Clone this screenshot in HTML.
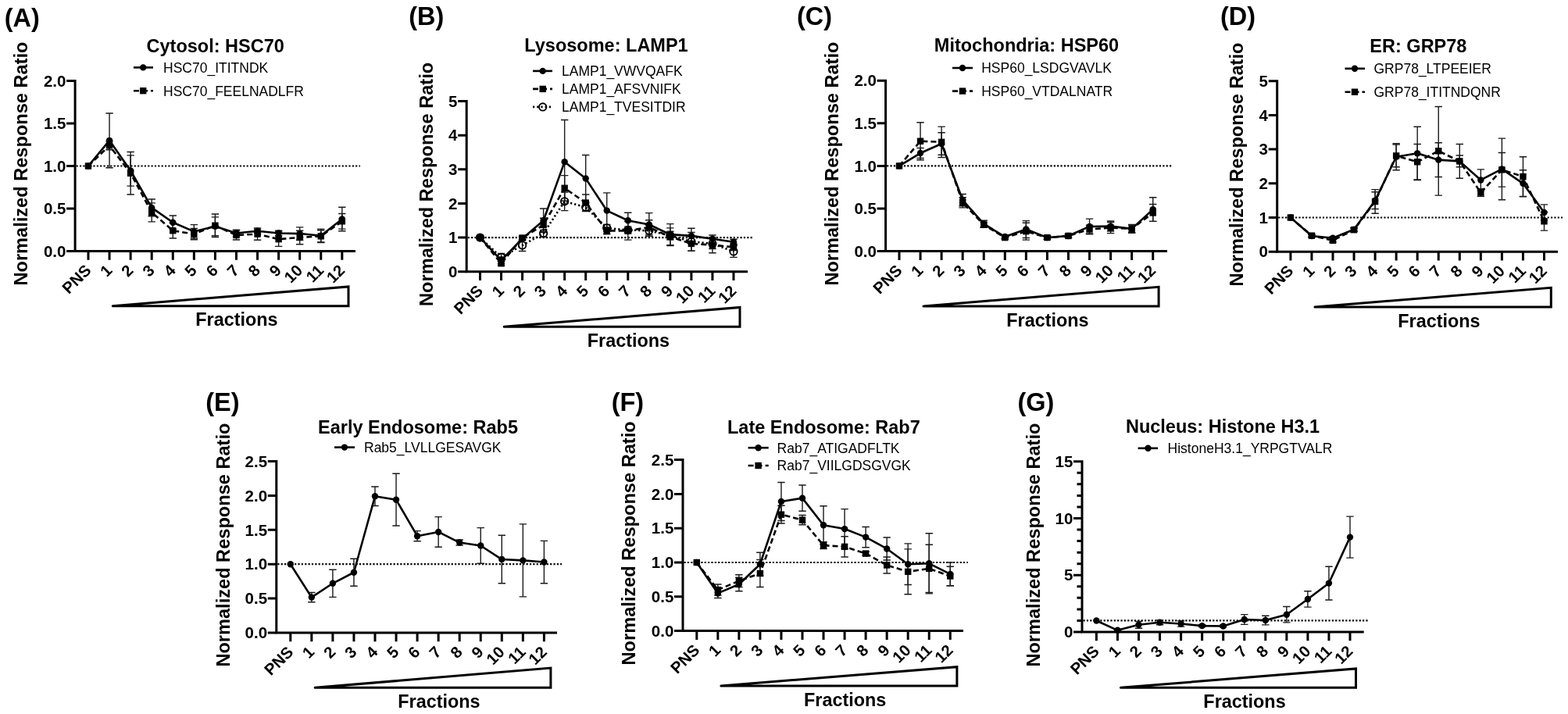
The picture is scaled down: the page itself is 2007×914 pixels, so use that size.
<!DOCTYPE html>
<html><head><meta charset="utf-8"><title>Figure</title>
<style>html,body{margin:0;padding:0;background:#fff;width:2007px;height:914px;overflow:hidden}
svg{display:block} text{font-family:"Liberation Sans", Arial, sans-serif;fill:#000}</style></head>
<body><svg width="2007" height="914" viewBox="0 0 2007 914">
<rect width="2007" height="914" fill="#fff"/>
<g><text transform="translate(5.8 34.2) scale(0.955 1)" font-size="34" font-weight="bold">(A)</text>
<text x="275.7" y="67" font-size="23.5" font-weight="bold" text-anchor="middle">Cytosol: HSC70</text>
<text transform="translate(34.8 209.5) rotate(-90)" font-size="23.6" font-weight="bold" text-anchor="middle">Normalized Response Ratio</text>
<line x1="97.6" y1="212.5" x2="461" y2="212.5" stroke="#000" stroke-width="2.2" stroke-dasharray="2.2 2.16"/>
<path d="M85.1 103.6H96.1V321.4H455" fill="none" stroke="#000" stroke-width="3.0"/>
<text x="84.4" y="328.6" font-size="20.5" font-weight="bold" text-anchor="end">0.0</text>
<text x="84.4" y="274.15" font-size="20.5" font-weight="bold" text-anchor="end">0.5</text>
<text x="84.4" y="219.7" font-size="20.5" font-weight="bold" text-anchor="end">1.0</text>
<text x="84.4" y="165.25" font-size="20.5" font-weight="bold" text-anchor="end">1.5</text>
<text x="84.4" y="110.8" font-size="20.5" font-weight="bold" text-anchor="end">2.0</text>
<path d="M85.1 321.4H96.1M85.1 266.95H96.1M85.1 212.5H96.1M85.1 158.05H96.1M113 321.4V332.7M140.07 321.4V332.7M167.14 321.4V332.7M194.21 321.4V332.7M221.28 321.4V332.7M248.35 321.4V332.7M275.42 321.4V332.7M302.49 321.4V332.7M329.56 321.4V332.7M356.63 321.4V332.7M383.7 321.4V332.7M410.77 321.4V332.7M437.84 321.4V332.7" fill="none" stroke="#000" stroke-width="3.0"/>
<text transform="translate(117.8 347.4) rotate(-45)" font-size="20.5" font-weight="bold" text-anchor="end">PNS</text>
<text transform="translate(144.87 347.4) rotate(-45)" font-size="20.5" font-weight="bold" text-anchor="end">1</text>
<text transform="translate(171.94 347.4) rotate(-45)" font-size="20.5" font-weight="bold" text-anchor="end">2</text>
<text transform="translate(199.01 347.4) rotate(-45)" font-size="20.5" font-weight="bold" text-anchor="end">3</text>
<text transform="translate(226.08 347.4) rotate(-45)" font-size="20.5" font-weight="bold" text-anchor="end">4</text>
<text transform="translate(253.15 347.4) rotate(-45)" font-size="20.5" font-weight="bold" text-anchor="end">5</text>
<text transform="translate(280.22 347.4) rotate(-45)" font-size="20.5" font-weight="bold" text-anchor="end">6</text>
<text transform="translate(307.29 347.4) rotate(-45)" font-size="20.5" font-weight="bold" text-anchor="end">7</text>
<text transform="translate(334.36 347.4) rotate(-45)" font-size="20.5" font-weight="bold" text-anchor="end">8</text>
<text transform="translate(361.43 347.4) rotate(-45)" font-size="20.5" font-weight="bold" text-anchor="end">9</text>
<text transform="translate(388.5 347.4) rotate(-45)" font-size="20.5" font-weight="bold" text-anchor="end">10</text>
<text transform="translate(415.57 347.4) rotate(-45)" font-size="20.5" font-weight="bold" text-anchor="end">11</text>
<text transform="translate(442.64 347.4) rotate(-45)" font-size="20.5" font-weight="bold" text-anchor="end">12</text>
<path d="M144.3 391.8H446V367L144.3 391.8" fill="#fff" stroke="#000" stroke-width="3" stroke-linecap="round" stroke-linejoin="miter"/>
<text x="302.9" y="417.4" font-size="23.4" font-weight="bold" text-anchor="middle">Fractions</text>
<line x1="171" y1="86.4" x2="196" y2="86.4" stroke="#000" stroke-width="2.6"/>
<circle cx="183.2" cy="86.4" r="4.2"/>
<text x="209" y="92.7" font-size="17.5">HSC70_ITITNDK</text>
<line x1="171" y1="116.2" x2="196" y2="116.2" stroke="#000" stroke-width="2.6" stroke-dasharray="7 4"/>
<rect x="179" y="112" width="8.4" height="8.4"/>
<text x="209" y="122.5" font-size="17.5">HSC70_FEELNADLFR</text>
<path d="M140.07 144.98V214.68M135.37 144.98h9.4M135.37 214.68h9.4M167.14 198.89V238.09M162.44 198.89h9.4M162.44 238.09h9.4M194.21 254.97V276.75M189.51 254.97h9.4M189.51 276.75h9.4M221.28 275.99V293.41M216.58 275.99h9.4M216.58 293.41h9.4M248.35 287.64V305.06M243.65 287.64h9.4M243.65 305.06h9.4M275.42 277.84V301.8M270.72 277.84h9.4M270.72 301.8h9.4M302.49 294.17V302.89M297.79 294.17h9.4M297.79 302.89h9.4M329.56 293.63V297.99M324.86 293.63h9.4M324.86 297.99h9.4M356.63 295.26V301.8M351.93 295.26h9.4M351.93 301.8h9.4M383.7 290.91V307.24M379 290.91h9.4M379 307.24h9.4M410.77 293.09V310.51M406.07 293.09h9.4M406.07 310.51h9.4M437.84 265.32V295.81M433.14 265.32h9.4M433.14 295.81h9.4" fill="none" stroke="#1a1a1a" stroke-width="1.4"/>
<path d="M140.07 180.92V191.81M135.37 180.92h9.4M135.37 191.81h9.4M167.14 194.53V248.98M162.44 194.53h9.4M162.44 248.98h9.4M194.21 259.87V283.83M189.51 259.87h9.4M189.51 283.83h9.4M221.28 285.46V305.06M216.58 285.46h9.4M216.58 305.06h9.4M248.35 292.54V306.7M243.65 292.54h9.4M243.65 306.7h9.4M275.42 274.03V303.43M270.72 274.03h9.4M270.72 303.43h9.4M302.49 295.05V307.03M297.79 295.05h9.4M297.79 307.03h9.4M329.56 292V307.24M324.86 292h9.4M324.86 307.24h9.4M356.63 296.9V315.41M351.93 296.9h9.4M351.93 315.41h9.4M383.7 295.26V312.69M379 295.26h9.4M379 312.69h9.4M410.77 294.72V309.97M406.07 294.72h9.4M406.07 309.97h9.4M437.84 273.48V293.09M433.14 273.48h9.4M433.14 293.09h9.4" fill="none" stroke="#1a1a1a" stroke-width="1.4"/>
<polyline points="113,212.5 140.07,179.83 167.14,218.49 194.21,265.86 221.28,284.7 248.35,296.35 275.42,289.82 302.49,298.53 329.56,295.81 356.63,298.53 383.7,299.08 410.77,301.8 437.84,280.56" fill="none" stroke="#000" stroke-width="2.6" stroke-linejoin="round"/>
<circle cx="113" cy="212.5" r="4.2"/>
<circle cx="140.07" cy="179.83" r="4.2"/>
<circle cx="167.14" cy="218.49" r="4.2"/>
<circle cx="194.21" cy="265.86" r="4.2"/>
<circle cx="221.28" cy="284.7" r="4.2"/>
<circle cx="248.35" cy="296.35" r="4.2"/>
<circle cx="275.42" cy="289.82" r="4.2"/>
<circle cx="302.49" cy="298.53" r="4.2"/>
<circle cx="329.56" cy="295.81" r="4.2"/>
<circle cx="356.63" cy="298.53" r="4.2"/>
<circle cx="383.7" cy="299.08" r="4.2"/>
<circle cx="410.77" cy="301.8" r="4.2"/>
<circle cx="437.84" cy="280.56" r="4.2"/>
<polyline points="113,212.5 140.07,186.36 167.14,221.76 194.21,271.85 221.28,295.26 248.35,299.62 275.42,288.73 302.49,301.04 329.56,299.62 356.63,306.15 383.7,303.98 410.77,302.34 437.84,283.28" fill="none" stroke="#000" stroke-width="2.6" stroke-linejoin="round" stroke-dasharray="7 4"/>
<rect x="108.8" y="208.3" width="8.4" height="8.4"/>
<rect x="135.87" y="182.16" width="8.4" height="8.4"/>
<rect x="162.94" y="217.56" width="8.4" height="8.4"/>
<rect x="190.01" y="267.65" width="8.4" height="8.4"/>
<rect x="217.08" y="291.06" width="8.4" height="8.4"/>
<rect x="244.15" y="295.42" width="8.4" height="8.4"/>
<rect x="271.22" y="284.53" width="8.4" height="8.4"/>
<rect x="298.29" y="296.84" width="8.4" height="8.4"/>
<rect x="325.36" y="295.42" width="8.4" height="8.4"/>
<rect x="352.43" y="301.95" width="8.4" height="8.4"/>
<rect x="379.5" y="299.78" width="8.4" height="8.4"/>
<rect x="406.57" y="298.14" width="8.4" height="8.4"/>
<rect x="433.64" y="279.08" width="8.4" height="8.4"/></g>
<g><text transform="translate(523.2 31.7) scale(0.955 1)" font-size="34" font-weight="bold">(B)</text>
<text x="776" y="66.3" font-size="23.5" font-weight="bold" text-anchor="middle">Lysosome: LAMP1</text>
<text transform="translate(553.6 235.9) rotate(-90)" font-size="23.6" font-weight="bold" text-anchor="middle">Normalized Response Ratio</text>
<line x1="598.7" y1="304.06" x2="965" y2="304.06" stroke="#000" stroke-width="2.2" stroke-dasharray="2.2 2.16"/>
<path d="M586.2 129.5H597.2V347.7H957" fill="none" stroke="#000" stroke-width="3.0"/>
<text x="585.5" y="354.9" font-size="20.5" font-weight="bold" text-anchor="end">0</text>
<text x="585.5" y="311.26" font-size="20.5" font-weight="bold" text-anchor="end">1</text>
<text x="585.5" y="267.62" font-size="20.5" font-weight="bold" text-anchor="end">2</text>
<text x="585.5" y="223.98" font-size="20.5" font-weight="bold" text-anchor="end">3</text>
<text x="585.5" y="180.34" font-size="20.5" font-weight="bold" text-anchor="end">4</text>
<text x="585.5" y="136.7" font-size="20.5" font-weight="bold" text-anchor="end">5</text>
<path d="M586.2 347.7H597.2M586.2 304.06H597.2M586.2 260.42H597.2M586.2 216.78H597.2M586.2 173.14H597.2M614.5 347.7V359M641.54 347.7V359M668.58 347.7V359M695.62 347.7V359M722.66 347.7V359M749.7 347.7V359M776.74 347.7V359M803.78 347.7V359M830.82 347.7V359M857.86 347.7V359M884.9 347.7V359M911.94 347.7V359M938.98 347.7V359" fill="none" stroke="#000" stroke-width="3.0"/>
<text transform="translate(619.3 373.7) rotate(-45)" font-size="20.5" font-weight="bold" text-anchor="end">PNS</text>
<text transform="translate(646.34 373.7) rotate(-45)" font-size="20.5" font-weight="bold" text-anchor="end">1</text>
<text transform="translate(673.38 373.7) rotate(-45)" font-size="20.5" font-weight="bold" text-anchor="end">2</text>
<text transform="translate(700.42 373.7) rotate(-45)" font-size="20.5" font-weight="bold" text-anchor="end">3</text>
<text transform="translate(727.46 373.7) rotate(-45)" font-size="20.5" font-weight="bold" text-anchor="end">4</text>
<text transform="translate(754.5 373.7) rotate(-45)" font-size="20.5" font-weight="bold" text-anchor="end">5</text>
<text transform="translate(781.54 373.7) rotate(-45)" font-size="20.5" font-weight="bold" text-anchor="end">6</text>
<text transform="translate(808.58 373.7) rotate(-45)" font-size="20.5" font-weight="bold" text-anchor="end">7</text>
<text transform="translate(835.62 373.7) rotate(-45)" font-size="20.5" font-weight="bold" text-anchor="end">8</text>
<text transform="translate(862.66 373.7) rotate(-45)" font-size="20.5" font-weight="bold" text-anchor="end">9</text>
<text transform="translate(889.7 373.7) rotate(-45)" font-size="20.5" font-weight="bold" text-anchor="end">10</text>
<text transform="translate(916.74 373.7) rotate(-45)" font-size="20.5" font-weight="bold" text-anchor="end">11</text>
<text transform="translate(943.78 373.7) rotate(-45)" font-size="20.5" font-weight="bold" text-anchor="end">12</text>
<path d="M645.2 418.2H947V393.5L645.2 418.2" fill="#fff" stroke="#000" stroke-width="3" stroke-linecap="round" stroke-linejoin="miter"/>
<text x="804.4" y="443.8" font-size="23.4" font-weight="bold" text-anchor="middle">Fractions</text>
<line x1="682" y1="90.9" x2="707" y2="90.9" stroke="#000" stroke-width="2.6"/>
<circle cx="694.7" cy="90.9" r="4.2"/>
<text x="719" y="97.2" font-size="17.5">LAMP1_VWVQAFK</text>
<line x1="682" y1="113.9" x2="707" y2="113.9" stroke="#000" stroke-width="2.6" stroke-dasharray="7 4"/>
<rect x="690.5" y="109.7" width="8.4" height="8.4"/>
<text x="719" y="120.2" font-size="17.5">LAMP1_AFSVNIFK</text>
<line x1="682" y1="136.9" x2="707" y2="136.9" stroke="#000" stroke-width="2.6" stroke-dasharray="2.2 3" />
<circle cx="694.7" cy="136.9" r="4.7" fill="none" stroke="#000" stroke-width="1.9"/>
<text x="719" y="143.2" font-size="17.5">LAMP1_TVESITDIR</text>
<path d="M641.54 328.93V337.66M636.84 328.93h9.4M636.84 337.66h9.4M668.58 303.19V307.55M663.88 303.19h9.4M663.88 307.55h9.4M695.62 266.97V297.51M690.92 266.97h9.4M690.92 297.51h9.4M722.66 153.5V260.86M717.96 153.5h9.4M717.96 260.86h9.4M749.7 198.45V258.67M745 198.45h9.4M745 258.67h9.4M776.74 246.89V292.28M772.04 246.89h9.4M772.04 292.28h9.4M803.78 272.2V292.28M799.08 272.2h9.4M799.08 292.28h9.4M830.82 272.64V302.31M826.12 272.64h9.4M826.12 302.31h9.4M857.86 286.6V313.66M853.16 286.6h9.4M853.16 313.66h9.4M884.9 292.28V311.48M880.2 292.28h9.4M880.2 311.48h9.4M911.94 301.01V310.61M907.24 301.01h9.4M907.24 310.61h9.4M938.98 306.24V313.22M934.28 306.24h9.4M934.28 313.22h9.4" fill="none" stroke="#1a1a1a" stroke-width="1.4"/>
<path d="M641.54 334.61V339.84M636.84 334.61h9.4M636.84 339.84h9.4M668.58 302.31V306.68M663.88 302.31h9.4M663.88 306.68h9.4M695.62 279.19V296.64M690.92 279.19h9.4M690.92 296.64h9.4M722.66 224.64V256.93M717.96 224.64h9.4M717.96 256.93h9.4M749.7 249.07V270.02M745 249.07h9.4M745 270.02h9.4M776.74 290.97V299.7M772.04 290.97h9.4M772.04 299.7h9.4M803.78 283.55V307.11M799.08 283.55h9.4M799.08 307.11h9.4M830.82 281.8V300.13M826.12 281.8h9.4M826.12 300.13h9.4M857.86 291.84V314.53M853.16 291.84h9.4M853.16 314.53h9.4M884.9 302.75V321.08M880.2 302.75h9.4M880.2 321.08h9.4M911.94 303.62V323.7M907.24 303.62h9.4M907.24 323.7h9.4M938.98 311.92V320.64M934.28 311.92h9.4M934.28 320.64h9.4" fill="none" stroke="#1a1a1a" stroke-width="1.4"/>
<path d="M641.54 324.57V334.17M636.84 324.57h9.4M636.84 334.17h9.4M668.58 306.68V321.52M663.88 306.68h9.4M663.88 321.52h9.4M695.62 294.46V303.19M690.92 294.46h9.4M690.92 303.19h9.4M722.66 246.02V269.58M717.96 246.02h9.4M717.96 269.58h9.4M749.7 259.98V270.46M745 259.98h9.4M745 270.46h9.4M776.74 287.48V296.2M772.04 287.48h9.4M772.04 296.2h9.4M803.78 290.1V298.82M799.08 290.1h9.4M799.08 298.82h9.4M830.82 288.35V302.31M826.12 288.35h9.4M826.12 302.31h9.4M857.86 296.2V306.68M853.16 296.2h9.4M853.16 306.68h9.4M884.9 297.51V321.08M880.2 297.51h9.4M880.2 321.08h9.4M911.94 305.37V318.46M907.24 305.37h9.4M907.24 318.46h9.4M938.98 314.53V329.37M934.28 314.53h9.4M934.28 329.37h9.4" fill="none" stroke="#1a1a1a" stroke-width="1.4"/>
<polyline points="614.5,304.06 641.54,333.3 668.58,305.37 695.62,282.24 722.66,207.18 749.7,228.56 776.74,269.58 803.78,282.24 830.82,287.48 857.86,300.13 884.9,301.88 911.94,305.81 938.98,309.73" fill="none" stroke="#000" stroke-width="2.6" stroke-linejoin="round"/>
<circle cx="614.5" cy="304.06" r="4.2"/>
<circle cx="641.54" cy="333.3" r="4.2"/>
<circle cx="668.58" cy="305.37" r="4.2"/>
<circle cx="695.62" cy="282.24" r="4.2"/>
<circle cx="722.66" cy="207.18" r="4.2"/>
<circle cx="749.7" cy="228.56" r="4.2"/>
<circle cx="776.74" cy="269.58" r="4.2"/>
<circle cx="803.78" cy="282.24" r="4.2"/>
<circle cx="830.82" cy="287.48" r="4.2"/>
<circle cx="857.86" cy="300.13" r="4.2"/>
<circle cx="884.9" cy="301.88" r="4.2"/>
<circle cx="911.94" cy="305.81" r="4.2"/>
<circle cx="938.98" cy="309.73" r="4.2"/>
<polyline points="614.5,304.06 641.54,337.23 668.58,304.5 695.62,287.91 722.66,240.78 749.7,259.55 776.74,295.33 803.78,295.33 830.82,290.97 857.86,303.19 884.9,311.92 911.94,313.66 938.98,316.28" fill="none" stroke="#000" stroke-width="2.6" stroke-linejoin="round" stroke-dasharray="7 4"/>
<rect x="610.3" y="299.86" width="8.4" height="8.4"/>
<rect x="637.34" y="333.03" width="8.4" height="8.4"/>
<rect x="664.38" y="300.3" width="8.4" height="8.4"/>
<rect x="691.42" y="283.71" width="8.4" height="8.4"/>
<rect x="718.46" y="236.58" width="8.4" height="8.4"/>
<rect x="745.5" y="255.35" width="8.4" height="8.4"/>
<rect x="772.54" y="291.13" width="8.4" height="8.4"/>
<rect x="799.58" y="291.13" width="8.4" height="8.4"/>
<rect x="826.62" y="286.77" width="8.4" height="8.4"/>
<rect x="853.66" y="298.99" width="8.4" height="8.4"/>
<rect x="880.7" y="307.72" width="8.4" height="8.4"/>
<rect x="907.74" y="309.46" width="8.4" height="8.4"/>
<rect x="934.78" y="312.08" width="8.4" height="8.4"/>
<polyline points="614.5,304.06 641.54,329.37 668.58,314.1 695.62,298.82 722.66,257.8 749.7,265.22 776.74,291.84 803.78,294.46 830.82,295.33 857.86,301.44 884.9,309.3 911.94,311.92 938.98,321.95" fill="none" stroke="#000" stroke-width="2.6" stroke-linejoin="round" stroke-dasharray="2.2 3" />
<circle cx="614.5" cy="304.06" r="4.7" fill="none" stroke="#000" stroke-width="1.9"/>
<circle cx="641.54" cy="329.37" r="4.7" fill="none" stroke="#000" stroke-width="1.9"/>
<circle cx="668.58" cy="314.1" r="4.7" fill="none" stroke="#000" stroke-width="1.9"/>
<circle cx="695.62" cy="298.82" r="4.7" fill="none" stroke="#000" stroke-width="1.9"/>
<circle cx="722.66" cy="257.8" r="4.7" fill="none" stroke="#000" stroke-width="1.9"/>
<circle cx="749.7" cy="265.22" r="4.7" fill="none" stroke="#000" stroke-width="1.9"/>
<circle cx="776.74" cy="291.84" r="4.7" fill="none" stroke="#000" stroke-width="1.9"/>
<circle cx="803.78" cy="294.46" r="4.7" fill="none" stroke="#000" stroke-width="1.9"/>
<circle cx="830.82" cy="295.33" r="4.7" fill="none" stroke="#000" stroke-width="1.9"/>
<circle cx="857.86" cy="301.44" r="4.7" fill="none" stroke="#000" stroke-width="1.9"/>
<circle cx="884.9" cy="309.3" r="4.7" fill="none" stroke="#000" stroke-width="1.9"/>
<circle cx="911.94" cy="311.92" r="4.7" fill="none" stroke="#000" stroke-width="1.9"/>
<circle cx="938.98" cy="321.95" r="4.7" fill="none" stroke="#000" stroke-width="1.9"/></g>
<g><text transform="translate(1019.9 31.7) scale(0.955 1)" font-size="34" font-weight="bold">(C)</text>
<text x="1314" y="66.2" font-size="23.5" font-weight="bold" text-anchor="middle">Mitochondria: HSP60</text>
<text transform="translate(1072.8 209.6) rotate(-90)" font-size="23.6" font-weight="bold" text-anchor="middle">Normalized Response Ratio</text>
<line x1="1135.1" y1="212.4" x2="1500" y2="212.4" stroke="#000" stroke-width="2.2" stroke-dasharray="2.2 2.16"/>
<path d="M1122.6 103.2H1133.6V321.6H1494" fill="none" stroke="#000" stroke-width="3.0"/>
<text x="1121.9" y="328.8" font-size="20.5" font-weight="bold" text-anchor="end">0.0</text>
<text x="1121.9" y="274.2" font-size="20.5" font-weight="bold" text-anchor="end">0.5</text>
<text x="1121.9" y="219.6" font-size="20.5" font-weight="bold" text-anchor="end">1.0</text>
<text x="1121.9" y="165" font-size="20.5" font-weight="bold" text-anchor="end">1.5</text>
<text x="1121.9" y="110.4" font-size="20.5" font-weight="bold" text-anchor="end">2.0</text>
<path d="M1122.6 321.6H1133.6M1122.6 267H1133.6M1122.6 212.4H1133.6M1122.6 157.8H1133.6M1151 321.6V332.9M1178.06 321.6V332.9M1205.12 321.6V332.9M1232.18 321.6V332.9M1259.24 321.6V332.9M1286.3 321.6V332.9M1313.36 321.6V332.9M1340.42 321.6V332.9M1367.48 321.6V332.9M1394.54 321.6V332.9M1421.6 321.6V332.9M1448.66 321.6V332.9M1475.72 321.6V332.9" fill="none" stroke="#000" stroke-width="3.0"/>
<text transform="translate(1155.8 347.6) rotate(-45)" font-size="20.5" font-weight="bold" text-anchor="end">PNS</text>
<text transform="translate(1182.86 347.6) rotate(-45)" font-size="20.5" font-weight="bold" text-anchor="end">1</text>
<text transform="translate(1209.92 347.6) rotate(-45)" font-size="20.5" font-weight="bold" text-anchor="end">2</text>
<text transform="translate(1236.98 347.6) rotate(-45)" font-size="20.5" font-weight="bold" text-anchor="end">3</text>
<text transform="translate(1264.04 347.6) rotate(-45)" font-size="20.5" font-weight="bold" text-anchor="end">4</text>
<text transform="translate(1291.1 347.6) rotate(-45)" font-size="20.5" font-weight="bold" text-anchor="end">5</text>
<text transform="translate(1318.16 347.6) rotate(-45)" font-size="20.5" font-weight="bold" text-anchor="end">6</text>
<text transform="translate(1345.22 347.6) rotate(-45)" font-size="20.5" font-weight="bold" text-anchor="end">7</text>
<text transform="translate(1372.28 347.6) rotate(-45)" font-size="20.5" font-weight="bold" text-anchor="end">8</text>
<text transform="translate(1399.34 347.6) rotate(-45)" font-size="20.5" font-weight="bold" text-anchor="end">9</text>
<text transform="translate(1426.4 347.6) rotate(-45)" font-size="20.5" font-weight="bold" text-anchor="end">10</text>
<text transform="translate(1453.46 347.6) rotate(-45)" font-size="20.5" font-weight="bold" text-anchor="end">11</text>
<text transform="translate(1480.52 347.6) rotate(-45)" font-size="20.5" font-weight="bold" text-anchor="end">12</text>
<path d="M1182 391.9H1483.1V367.3L1182 391.9" fill="#fff" stroke="#000" stroke-width="3" stroke-linecap="round" stroke-linejoin="miter"/>
<text x="1340.9" y="417.7" font-size="23.4" font-weight="bold" text-anchor="middle">Fractions</text>
<line x1="1219" y1="87" x2="1245" y2="87" stroke="#000" stroke-width="2.6"/>
<circle cx="1232" cy="87" r="4.2"/>
<text x="1256.2" y="93.3" font-size="17.5">HSP60_LSDGVAVLK</text>
<line x1="1219" y1="116.6" x2="1245" y2="116.6" stroke="#000" stroke-width="2.6" stroke-dasharray="7 4"/>
<rect x="1227.8" y="112.4" width="8.4" height="8.4"/>
<text x="1256.2" y="122.9" font-size="17.5">HSP60_VTDALNATR</text>
<path d="M1178.06 189.47V202.57M1173.36 189.47h9.4M1173.36 202.57h9.4M1205.12 169.81V198.2M1200.42 169.81h9.4M1200.42 198.2h9.4M1232.18 248.44V263.72M1227.48 248.44h9.4M1227.48 263.72h9.4M1259.24 282.29V291.02M1254.54 282.29h9.4M1254.54 291.02h9.4M1286.3 300.85V305.22M1281.6 300.85h9.4M1281.6 305.22h9.4M1313.36 282.62V304.46M1308.66 282.62h9.4M1308.66 304.46h9.4M1340.42 301.94V306.31M1335.72 301.94h9.4M1335.72 306.31h9.4M1367.48 299.76V304.13M1362.78 299.76h9.4M1362.78 304.13h9.4M1394.54 280.1V299.76M1389.84 280.1h9.4M1389.84 299.76h9.4M1421.6 283.05V296.16M1416.9 283.05h9.4M1416.9 296.16h9.4M1448.66 287.42V298.34M1443.96 287.42h9.4M1443.96 298.34h9.4M1475.72 252.8V283.38M1471.02 252.8h9.4M1471.02 283.38h9.4" fill="none" stroke="#1a1a1a" stroke-width="1.4"/>
<path d="M1178.06 156.71V204.76M1173.36 156.71h9.4M1173.36 204.76h9.4M1205.12 162.17V201.48M1200.42 162.17h9.4M1200.42 201.48h9.4M1232.18 252.8V265.91M1227.48 252.8h9.4M1227.48 265.91h9.4M1259.24 284.47V291.02M1254.54 284.47h9.4M1254.54 291.02h9.4M1286.3 301.94V306.31M1281.6 301.94h9.4M1281.6 306.31h9.4M1313.36 285.24V307.08M1308.66 285.24h9.4M1308.66 307.08h9.4M1340.42 301.94V306.31M1335.72 301.94h9.4M1335.72 306.31h9.4M1367.48 299.76V304.13M1362.78 299.76h9.4M1362.78 304.13h9.4M1394.54 288.08V299M1389.84 288.08h9.4M1389.84 299h9.4M1421.6 284.47V298.67M1416.9 284.47h9.4M1416.9 298.67h9.4M1448.66 287.97V297.79M1443.96 287.97h9.4M1443.96 297.79h9.4M1475.72 261.54V283.38M1471.02 261.54h9.4M1471.02 283.38h9.4" fill="none" stroke="#1a1a1a" stroke-width="1.4"/>
<polyline points="1151,212.4 1178.06,196.02 1205.12,184.01 1232.18,256.08 1259.24,286.66 1286.3,303.04 1313.36,293.54 1340.42,304.13 1367.48,301.94 1394.54,289.93 1421.6,289.6 1448.66,292.88 1475.72,268.09" fill="none" stroke="#000" stroke-width="2.6" stroke-linejoin="round"/>
<circle cx="1151" cy="212.4" r="4.2"/>
<circle cx="1178.06" cy="196.02" r="4.2"/>
<circle cx="1205.12" cy="184.01" r="4.2"/>
<circle cx="1232.18" cy="256.08" r="4.2"/>
<circle cx="1259.24" cy="286.66" r="4.2"/>
<circle cx="1286.3" cy="303.04" r="4.2"/>
<circle cx="1313.36" cy="293.54" r="4.2"/>
<circle cx="1340.42" cy="304.13" r="4.2"/>
<circle cx="1367.48" cy="301.94" r="4.2"/>
<circle cx="1394.54" cy="289.93" r="4.2"/>
<circle cx="1421.6" cy="289.6" r="4.2"/>
<circle cx="1448.66" cy="292.88" r="4.2"/>
<circle cx="1475.72" cy="268.09" r="4.2"/>
<polyline points="1151,212.4 1178.06,180.73 1205.12,181.82 1232.18,259.36 1259.24,287.75 1286.3,304.13 1313.36,296.16 1340.42,304.13 1367.48,301.94 1394.54,293.54 1421.6,291.57 1448.66,292.88 1475.72,272.46" fill="none" stroke="#000" stroke-width="2.6" stroke-linejoin="round" stroke-dasharray="7 4"/>
<rect x="1146.8" y="208.2" width="8.4" height="8.4"/>
<rect x="1173.86" y="176.53" width="8.4" height="8.4"/>
<rect x="1200.92" y="177.62" width="8.4" height="8.4"/>
<rect x="1227.98" y="255.16" width="8.4" height="8.4"/>
<rect x="1255.04" y="283.55" width="8.4" height="8.4"/>
<rect x="1282.1" y="299.93" width="8.4" height="8.4"/>
<rect x="1309.16" y="291.96" width="8.4" height="8.4"/>
<rect x="1336.22" y="299.93" width="8.4" height="8.4"/>
<rect x="1363.28" y="297.74" width="8.4" height="8.4"/>
<rect x="1390.34" y="289.34" width="8.4" height="8.4"/>
<rect x="1417.4" y="287.37" width="8.4" height="8.4"/>
<rect x="1444.46" y="288.68" width="8.4" height="8.4"/>
<rect x="1471.52" y="268.26" width="8.4" height="8.4"/></g>
<g><text transform="translate(1561.9 31.7) scale(0.955 1)" font-size="34" font-weight="bold">(D)</text>
<text x="1815.4" y="66.9" font-size="23.5" font-weight="bold" text-anchor="middle">ER: GRP78</text>
<text transform="translate(1591.4 210.6) rotate(-90)" font-size="23.6" font-weight="bold" text-anchor="middle">Normalized Response Ratio</text>
<line x1="1636.2" y1="278.5" x2="2000" y2="278.5" stroke="#000" stroke-width="2.2" stroke-dasharray="2.2 2.16"/>
<path d="M1623.7 103.7H1634.7V322.2H1994" fill="none" stroke="#000" stroke-width="3.0"/>
<text x="1623" y="329.4" font-size="20.5" font-weight="bold" text-anchor="end">0</text>
<text x="1623" y="285.7" font-size="20.5" font-weight="bold" text-anchor="end">1</text>
<text x="1623" y="242" font-size="20.5" font-weight="bold" text-anchor="end">2</text>
<text x="1623" y="198.3" font-size="20.5" font-weight="bold" text-anchor="end">3</text>
<text x="1623" y="154.6" font-size="20.5" font-weight="bold" text-anchor="end">4</text>
<text x="1623" y="110.9" font-size="20.5" font-weight="bold" text-anchor="end">5</text>
<path d="M1623.7 322.2H1634.7M1623.7 278.5H1634.7M1623.7 234.8H1634.7M1623.7 191.1H1634.7M1623.7 147.4H1634.7M1651.9 322.2V333.5M1678.95 322.2V333.5M1706 322.2V333.5M1733.05 322.2V333.5M1760.1 322.2V333.5M1787.15 322.2V333.5M1814.2 322.2V333.5M1841.25 322.2V333.5M1868.3 322.2V333.5M1895.35 322.2V333.5M1922.4 322.2V333.5M1949.45 322.2V333.5M1976.5 322.2V333.5" fill="none" stroke="#000" stroke-width="3.0"/>
<text transform="translate(1656.7 348.2) rotate(-45)" font-size="20.5" font-weight="bold" text-anchor="end">PNS</text>
<text transform="translate(1683.75 348.2) rotate(-45)" font-size="20.5" font-weight="bold" text-anchor="end">1</text>
<text transform="translate(1710.8 348.2) rotate(-45)" font-size="20.5" font-weight="bold" text-anchor="end">2</text>
<text transform="translate(1737.85 348.2) rotate(-45)" font-size="20.5" font-weight="bold" text-anchor="end">3</text>
<text transform="translate(1764.9 348.2) rotate(-45)" font-size="20.5" font-weight="bold" text-anchor="end">4</text>
<text transform="translate(1791.95 348.2) rotate(-45)" font-size="20.5" font-weight="bold" text-anchor="end">5</text>
<text transform="translate(1819 348.2) rotate(-45)" font-size="20.5" font-weight="bold" text-anchor="end">6</text>
<text transform="translate(1846.05 348.2) rotate(-45)" font-size="20.5" font-weight="bold" text-anchor="end">7</text>
<text transform="translate(1873.1 348.2) rotate(-45)" font-size="20.5" font-weight="bold" text-anchor="end">8</text>
<text transform="translate(1900.15 348.2) rotate(-45)" font-size="20.5" font-weight="bold" text-anchor="end">9</text>
<text transform="translate(1927.2 348.2) rotate(-45)" font-size="20.5" font-weight="bold" text-anchor="end">10</text>
<text transform="translate(1954.25 348.2) rotate(-45)" font-size="20.5" font-weight="bold" text-anchor="end">11</text>
<text transform="translate(1981.3 348.2) rotate(-45)" font-size="20.5" font-weight="bold" text-anchor="end">12</text>
<path d="M1683 393H1985.3V368.3L1683 393" fill="#fff" stroke="#000" stroke-width="3" stroke-linecap="round" stroke-linejoin="miter"/>
<text x="1841.9" y="418.7" font-size="23.4" font-weight="bold" text-anchor="middle">Fractions</text>
<line x1="1721.5" y1="87.8" x2="1747" y2="87.8" stroke="#000" stroke-width="2.6"/>
<circle cx="1734" cy="87.8" r="4.2"/>
<text x="1758.5" y="94.1" font-size="17.5">GRP78_LTPEEIER</text>
<line x1="1721.5" y1="117.7" x2="1747" y2="117.7" stroke="#000" stroke-width="2.6" stroke-dasharray="7 4"/>
<rect x="1729.8" y="113.5" width="8.4" height="8.4"/>
<text x="1758.5" y="124" font-size="17.5">GRP78_ITITNDQNR</text>
<path d="M1678.95 300.35V303.85M1674.25 300.35h9.4M1674.25 303.85h9.4M1706 302.97V306.47M1701.3 302.97h9.4M1701.3 306.47h9.4M1733.05 291.61V295.98M1728.35 291.61h9.4M1728.35 295.98h9.4M1760.1 245.72V267.57M1755.4 245.72h9.4M1755.4 267.57h9.4M1787.15 183.67V217.76M1782.45 183.67h9.4M1782.45 217.76h9.4M1814.2 162.26V230.43M1809.5 162.26h9.4M1809.5 230.43h9.4M1841.25 182.8V226.5M1836.55 182.8h9.4M1836.55 226.5h9.4M1868.3 184.54V228.25M1863.6 184.54h9.4M1863.6 228.25h9.4M1895.35 216.88V243.98M1890.65 216.88h9.4M1890.65 243.98h9.4M1922.4 177.12V255.78M1917.7 177.12h9.4M1917.7 255.78h9.4M1949.45 217.76V251.84M1944.75 217.76h9.4M1944.75 251.84h9.4M1976.5 261.89V282M1971.8 261.89h9.4M1971.8 282h9.4" fill="none" stroke="#1a1a1a" stroke-width="1.4"/>
<path d="M1678.95 299.91V303.41M1674.25 299.91h9.4M1674.25 303.41h9.4M1706 305.59V309.96M1701.3 305.59h9.4M1701.3 309.96h9.4M1733.05 292.05V296.42M1728.35 292.05h9.4M1728.35 296.42h9.4M1760.1 242.67V273.26M1755.4 242.67h9.4M1755.4 273.26h9.4M1787.15 184.98V213.82M1782.45 184.98h9.4M1782.45 213.82h9.4M1814.2 184.54V229.99M1809.5 184.54h9.4M1809.5 229.99h9.4M1841.25 136.47V250.09M1836.55 136.47h9.4M1836.55 250.09h9.4M1868.3 198.97V213.82M1863.6 198.97h9.4M1863.6 213.82h9.4M1895.35 241.79V251.41M1890.65 241.79h9.4M1890.65 251.41h9.4M1922.4 195.47V239.17M1917.7 195.47h9.4M1917.7 239.17h9.4M1949.45 200.71V251.41M1944.75 200.71h9.4M1944.75 251.41h9.4M1976.5 271.51V295.11M1971.8 271.51h9.4M1971.8 295.11h9.4" fill="none" stroke="#1a1a1a" stroke-width="1.4"/>
<polyline points="1651.9,278.5 1678.95,302.1 1706,304.72 1733.05,293.79 1760.1,256.65 1787.15,200.71 1814.2,196.34 1841.25,204.65 1868.3,206.39 1895.35,230.43 1922.4,216.45 1949.45,234.8 1976.5,271.94" fill="none" stroke="#000" stroke-width="2.6" stroke-linejoin="round"/>
<circle cx="1651.9" cy="278.5" r="4.2"/>
<circle cx="1678.95" cy="302.1" r="4.2"/>
<circle cx="1706" cy="304.72" r="4.2"/>
<circle cx="1733.05" cy="293.79" r="4.2"/>
<circle cx="1760.1" cy="256.65" r="4.2"/>
<circle cx="1787.15" cy="200.71" r="4.2"/>
<circle cx="1814.2" cy="196.34" r="4.2"/>
<circle cx="1841.25" cy="204.65" r="4.2"/>
<circle cx="1868.3" cy="206.39" r="4.2"/>
<circle cx="1895.35" cy="230.43" r="4.2"/>
<circle cx="1922.4" cy="216.45" r="4.2"/>
<circle cx="1949.45" cy="234.8" r="4.2"/>
<circle cx="1976.5" cy="271.94" r="4.2"/>
<polyline points="1651.9,278.5 1678.95,301.66 1706,307.78 1733.05,294.23 1760.1,257.96 1787.15,199.4 1814.2,207.27 1841.25,193.28 1868.3,206.39 1895.35,246.6 1922.4,217.32 1949.45,226.06 1976.5,283.31" fill="none" stroke="#000" stroke-width="2.6" stroke-linejoin="round" stroke-dasharray="7 4"/>
<rect x="1647.7" y="274.3" width="8.4" height="8.4"/>
<rect x="1674.75" y="297.46" width="8.4" height="8.4"/>
<rect x="1701.8" y="303.58" width="8.4" height="8.4"/>
<rect x="1728.85" y="290.03" width="8.4" height="8.4"/>
<rect x="1755.9" y="253.76" width="8.4" height="8.4"/>
<rect x="1782.95" y="195.2" width="8.4" height="8.4"/>
<rect x="1810" y="203.07" width="8.4" height="8.4"/>
<rect x="1837.05" y="189.08" width="8.4" height="8.4"/>
<rect x="1864.1" y="202.19" width="8.4" height="8.4"/>
<rect x="1891.15" y="242.4" width="8.4" height="8.4"/>
<rect x="1918.2" y="213.12" width="8.4" height="8.4"/>
<rect x="1945.25" y="221.86" width="8.4" height="8.4"/>
<rect x="1972.3" y="279.11" width="8.4" height="8.4"/></g>
<g><text transform="translate(263.2 525.8) scale(0.955 1)" font-size="34" font-weight="bold">(E)</text>
<text x="535" y="554.5" font-size="23.5" font-weight="bold" text-anchor="middle">Early Endosome: Rab5</text>
<text transform="translate(293.7 697.6) rotate(-90)" font-size="23.6" font-weight="bold" text-anchor="middle">Normalized Response Ratio</text>
<line x1="355.3" y1="722.2" x2="719" y2="722.2" stroke="#000" stroke-width="2.2" stroke-dasharray="2.2 2.16"/>
<path d="M342.8 590.5H353.8V810H713" fill="none" stroke="#000" stroke-width="3.0"/>
<text x="342.1" y="817.2" font-size="20.5" font-weight="bold" text-anchor="end">0.0</text>
<text x="342.1" y="773.3" font-size="20.5" font-weight="bold" text-anchor="end">0.5</text>
<text x="342.1" y="729.4" font-size="20.5" font-weight="bold" text-anchor="end">1.0</text>
<text x="342.1" y="685.5" font-size="20.5" font-weight="bold" text-anchor="end">1.5</text>
<text x="342.1" y="641.6" font-size="20.5" font-weight="bold" text-anchor="end">2.0</text>
<text x="342.1" y="597.7" font-size="20.5" font-weight="bold" text-anchor="end">2.5</text>
<path d="M342.8 810H353.8M342.8 766.1H353.8M342.8 722.2H353.8M342.8 678.3H353.8M342.8 634.4H353.8M371.8 810V821.3M398.85 810V821.3M425.9 810V821.3M452.95 810V821.3M480 810V821.3M507.05 810V821.3M534.1 810V821.3M561.15 810V821.3M588.2 810V821.3M615.25 810V821.3M642.3 810V821.3M669.35 810V821.3M696.4 810V821.3" fill="none" stroke="#000" stroke-width="3.0"/>
<text transform="translate(376.6 836) rotate(-45)" font-size="20.5" font-weight="bold" text-anchor="end">PNS</text>
<text transform="translate(403.65 836) rotate(-45)" font-size="20.5" font-weight="bold" text-anchor="end">1</text>
<text transform="translate(430.7 836) rotate(-45)" font-size="20.5" font-weight="bold" text-anchor="end">2</text>
<text transform="translate(457.75 836) rotate(-45)" font-size="20.5" font-weight="bold" text-anchor="end">3</text>
<text transform="translate(484.8 836) rotate(-45)" font-size="20.5" font-weight="bold" text-anchor="end">4</text>
<text transform="translate(511.85 836) rotate(-45)" font-size="20.5" font-weight="bold" text-anchor="end">5</text>
<text transform="translate(538.9 836) rotate(-45)" font-size="20.5" font-weight="bold" text-anchor="end">6</text>
<text transform="translate(565.95 836) rotate(-45)" font-size="20.5" font-weight="bold" text-anchor="end">7</text>
<text transform="translate(593 836) rotate(-45)" font-size="20.5" font-weight="bold" text-anchor="end">8</text>
<text transform="translate(620.05 836) rotate(-45)" font-size="20.5" font-weight="bold" text-anchor="end">9</text>
<text transform="translate(647.1 836) rotate(-45)" font-size="20.5" font-weight="bold" text-anchor="end">10</text>
<text transform="translate(674.15 836) rotate(-45)" font-size="20.5" font-weight="bold" text-anchor="end">11</text>
<text transform="translate(701.2 836) rotate(-45)" font-size="20.5" font-weight="bold" text-anchor="end">12</text>
<path d="M403.2 880.3H704.9V855.1L403.2 880.3" fill="#fff" stroke="#000" stroke-width="3" stroke-linecap="round" stroke-linejoin="miter"/>
<text x="561.9" y="906.3" font-size="23.4" font-weight="bold" text-anchor="middle">Fractions</text>
<line x1="428" y1="572.6" x2="454" y2="572.6" stroke="#000" stroke-width="2.6"/>
<circle cx="441" cy="572.6" r="4.2"/>
<text x="466" y="578.9" font-size="17.5">Rab5_LVLLGESAVGK</text>
<path d="M398.85 758.46V770.75M394.15 758.46h9.4M394.15 770.75h9.4M425.9 729.22V764.34M421.2 729.22h9.4M421.2 764.34h9.4M452.95 715.18V750.3M448.25 715.18h9.4M448.25 750.3h9.4M480 622.99V647.57M475.3 622.99h9.4M475.3 647.57h9.4M507.05 606.3V673.03M502.35 606.3h9.4M502.35 673.03h9.4M534.1 679.62V692.79M529.4 679.62h9.4M529.4 692.79h9.4M561.15 661.62V700.25M556.45 661.62h9.4M556.45 700.25h9.4M588.2 691.03V698.06M583.5 691.03h9.4M583.5 698.06h9.4M615.25 675.67V721.32M610.55 675.67h9.4M610.55 721.32h9.4M642.3 685.32V746.78M637.6 685.32h9.4M637.6 746.78h9.4M669.35 670.84V763.9M664.65 670.84h9.4M664.65 763.9h9.4M696.4 692.35V746.78M691.7 692.35h9.4M691.7 746.78h9.4" fill="none" stroke="#1a1a1a" stroke-width="1.4"/>
<polyline points="371.8,722.2 398.85,764.61 425.9,746.78 452.95,732.74 480,635.28 507.05,639.67 534.1,686.2 561.15,680.93 588.2,694.54 615.25,698.49 642.3,716.05 669.35,717.37 696.4,719.57" fill="none" stroke="#000" stroke-width="2.6" stroke-linejoin="round"/>
<circle cx="371.8" cy="722.2" r="4.2"/>
<circle cx="398.85" cy="764.61" r="4.2"/>
<circle cx="425.9" cy="746.78" r="4.2"/>
<circle cx="452.95" cy="732.74" r="4.2"/>
<circle cx="480" cy="635.28" r="4.2"/>
<circle cx="507.05" cy="639.67" r="4.2"/>
<circle cx="534.1" cy="686.2" r="4.2"/>
<circle cx="561.15" cy="680.93" r="4.2"/>
<circle cx="588.2" cy="694.54" r="4.2"/>
<circle cx="615.25" cy="698.49" r="4.2"/>
<circle cx="642.3" cy="716.05" r="4.2"/>
<circle cx="669.35" cy="717.37" r="4.2"/>
<circle cx="696.4" cy="719.57" r="4.2"/></g>
<g><text transform="translate(782.7 526) scale(0.955 1)" font-size="34" font-weight="bold">(F)</text>
<text x="1054.4" y="554.5" font-size="23.5" font-weight="bold" text-anchor="middle">Late Endosome: Rab7</text>
<text transform="translate(812.7 695.4) rotate(-90)" font-size="23.6" font-weight="bold" text-anchor="middle">Normalized Response Ratio</text>
<line x1="875.5" y1="720" x2="1239" y2="720" stroke="#000" stroke-width="2.2" stroke-dasharray="2.2 2.16"/>
<path d="M863 588.6H874V807.6H1233" fill="none" stroke="#000" stroke-width="3.0"/>
<text x="862.3" y="814.8" font-size="20.5" font-weight="bold" text-anchor="end">0.0</text>
<text x="862.3" y="771" font-size="20.5" font-weight="bold" text-anchor="end">0.5</text>
<text x="862.3" y="727.2" font-size="20.5" font-weight="bold" text-anchor="end">1.0</text>
<text x="862.3" y="683.4" font-size="20.5" font-weight="bold" text-anchor="end">1.5</text>
<text x="862.3" y="639.6" font-size="20.5" font-weight="bold" text-anchor="end">2.0</text>
<text x="862.3" y="595.8" font-size="20.5" font-weight="bold" text-anchor="end">2.5</text>
<path d="M863 807.6H874M863 763.8H874M863 720H874M863 676.2H874M863 632.4H874M891.8 807.6V818.9M918.84 807.6V818.9M945.88 807.6V818.9M972.92 807.6V818.9M999.96 807.6V818.9M1027 807.6V818.9M1054.04 807.6V818.9M1081.08 807.6V818.9M1108.12 807.6V818.9M1135.16 807.6V818.9M1162.2 807.6V818.9M1189.24 807.6V818.9M1216.28 807.6V818.9" fill="none" stroke="#000" stroke-width="3.0"/>
<text transform="translate(896.6 833.6) rotate(-45)" font-size="20.5" font-weight="bold" text-anchor="end">PNS</text>
<text transform="translate(923.64 833.6) rotate(-45)" font-size="20.5" font-weight="bold" text-anchor="end">1</text>
<text transform="translate(950.68 833.6) rotate(-45)" font-size="20.5" font-weight="bold" text-anchor="end">2</text>
<text transform="translate(977.72 833.6) rotate(-45)" font-size="20.5" font-weight="bold" text-anchor="end">3</text>
<text transform="translate(1004.76 833.6) rotate(-45)" font-size="20.5" font-weight="bold" text-anchor="end">4</text>
<text transform="translate(1031.8 833.6) rotate(-45)" font-size="20.5" font-weight="bold" text-anchor="end">5</text>
<text transform="translate(1058.84 833.6) rotate(-45)" font-size="20.5" font-weight="bold" text-anchor="end">6</text>
<text transform="translate(1085.88 833.6) rotate(-45)" font-size="20.5" font-weight="bold" text-anchor="end">7</text>
<text transform="translate(1112.92 833.6) rotate(-45)" font-size="20.5" font-weight="bold" text-anchor="end">8</text>
<text transform="translate(1139.96 833.6) rotate(-45)" font-size="20.5" font-weight="bold" text-anchor="end">9</text>
<text transform="translate(1167 833.6) rotate(-45)" font-size="20.5" font-weight="bold" text-anchor="end">10</text>
<text transform="translate(1194.04 833.6) rotate(-45)" font-size="20.5" font-weight="bold" text-anchor="end">11</text>
<text transform="translate(1221.08 833.6) rotate(-45)" font-size="20.5" font-weight="bold" text-anchor="end">12</text>
<path d="M922.9 877.9H1224.9V853.7L922.9 877.9" fill="#fff" stroke="#000" stroke-width="3" stroke-linecap="round" stroke-linejoin="miter"/>
<text x="1081.7" y="903.9" font-size="23.4" font-weight="bold" text-anchor="middle">Fractions</text>
<line x1="957.6" y1="573.2" x2="983.7" y2="573.2" stroke="#000" stroke-width="2.6"/>
<circle cx="970.6" cy="573.2" r="4.2"/>
<text x="994.6" y="579.5" font-size="17.5">Rab7_ATIGADFLTK</text>
<line x1="957.6" y1="596" x2="983.7" y2="596" stroke="#000" stroke-width="2.6" stroke-dasharray="7 4"/>
<rect x="966.4" y="591.8" width="8.4" height="8.4"/>
<text x="994.6" y="602.3" font-size="17.5">Rab7_VIILGDSGVGK</text>
<path d="M918.84 753.29V765.55M914.14 753.29h9.4M914.14 765.55h9.4M945.88 739.27V756.79M941.18 739.27h9.4M941.18 756.79h9.4M972.92 707.3V737.08M968.22 707.3h9.4M968.22 737.08h9.4M999.96 617.51V666.56M995.26 617.51h9.4M995.26 666.56h9.4M1027 621.01V654.3M1022.3 621.01h9.4M1022.3 654.3h9.4M1054.04 647.73V696.79M1049.34 647.73h9.4M1049.34 696.79h9.4M1081.08 651.67V702.48M1076.38 651.67h9.4M1076.38 702.48h9.4M1108.12 674.45V700.73M1103.42 674.45h9.4M1103.42 700.73h9.4M1135.16 688.03V716.93M1130.46 688.03h9.4M1130.46 716.93h9.4M1162.2 695.91V748.47M1157.5 695.91h9.4M1157.5 748.47h9.4M1189.24 682.77V759.86M1184.54 682.77h9.4M1184.54 759.86h9.4M1216.28 720V749.78M1211.58 720h9.4M1211.58 749.78h9.4" fill="none" stroke="#1a1a1a" stroke-width="1.4"/>
<path d="M918.84 748.03V762.05M914.14 748.03h9.4M914.14 762.05h9.4M945.88 735.77V751.54M941.18 735.77h9.4M941.18 751.54h9.4M972.92 716.5V751.54M968.22 716.5h9.4M968.22 751.54h9.4M999.96 647.29V670.07M995.26 647.29h9.4M995.26 670.07h9.4M1027 659.56V671.82M1022.3 659.56h9.4M1022.3 671.82h9.4M1054.04 693.72V702.48M1049.34 693.72h9.4M1049.34 702.48h9.4M1081.08 686.71V712.99M1076.38 686.71h9.4M1076.38 712.99h9.4M1108.12 705.98V711.24M1103.42 705.98h9.4M1103.42 711.24h9.4M1135.16 712.99V734.02M1130.46 712.99h9.4M1130.46 734.02h9.4M1162.2 702.92V760.73M1157.5 702.92h9.4M1157.5 760.73h9.4M1189.24 697.22V758.54M1184.54 697.22h9.4M1184.54 758.54h9.4M1216.28 725.26V749.78M1211.58 725.26h9.4M1211.58 749.78h9.4" fill="none" stroke="#1a1a1a" stroke-width="1.4"/>
<polyline points="891.8,720 918.84,759.42 945.88,748.03 972.92,722.19 999.96,642.04 1027,637.66 1054.04,672.26 1081.08,677.08 1108.12,687.59 1135.16,702.48 1162.2,722.19 1189.24,721.31 1216.28,734.89" fill="none" stroke="#000" stroke-width="2.6" stroke-linejoin="round"/>
<circle cx="891.8" cy="720" r="4.2"/>
<circle cx="918.84" cy="759.42" r="4.2"/>
<circle cx="945.88" cy="748.03" r="4.2"/>
<circle cx="972.92" cy="722.19" r="4.2"/>
<circle cx="999.96" cy="642.04" r="4.2"/>
<circle cx="1027" cy="637.66" r="4.2"/>
<circle cx="1054.04" cy="672.26" r="4.2"/>
<circle cx="1081.08" cy="677.08" r="4.2"/>
<circle cx="1108.12" cy="687.59" r="4.2"/>
<circle cx="1135.16" cy="702.48" r="4.2"/>
<circle cx="1162.2" cy="722.19" r="4.2"/>
<circle cx="1189.24" cy="721.31" r="4.2"/>
<circle cx="1216.28" cy="734.89" r="4.2"/>
<polyline points="891.8,720 918.84,755.04 945.88,743.65 972.92,734.02 999.96,658.68 1027,665.69 1054.04,698.1 1081.08,699.85 1108.12,708.61 1135.16,723.5 1162.2,731.83 1189.24,727.88 1216.28,737.52" fill="none" stroke="#000" stroke-width="2.6" stroke-linejoin="round" stroke-dasharray="7 4"/>
<rect x="887.6" y="715.8" width="8.4" height="8.4"/>
<rect x="914.64" y="750.84" width="8.4" height="8.4"/>
<rect x="941.68" y="739.45" width="8.4" height="8.4"/>
<rect x="968.72" y="729.82" width="8.4" height="8.4"/>
<rect x="995.76" y="654.48" width="8.4" height="8.4"/>
<rect x="1022.8" y="661.49" width="8.4" height="8.4"/>
<rect x="1049.84" y="693.9" width="8.4" height="8.4"/>
<rect x="1076.88" y="695.65" width="8.4" height="8.4"/>
<rect x="1103.92" y="704.41" width="8.4" height="8.4"/>
<rect x="1130.96" y="719.3" width="8.4" height="8.4"/>
<rect x="1158" y="727.63" width="8.4" height="8.4"/>
<rect x="1185.04" y="723.68" width="8.4" height="8.4"/>
<rect x="1212.08" y="733.32" width="8.4" height="8.4"/></g>
<g><text transform="translate(1302.4 525.8) scale(0.955 1)" font-size="34" font-weight="bold">(G)</text>
<text x="1565" y="554.2" font-size="23.5" font-weight="bold" text-anchor="middle">Nucleus: Histone H3.1</text>
<text transform="translate(1331.3 697.6) rotate(-90)" font-size="23.6" font-weight="bold" text-anchor="middle">Normalized Response Ratio</text>
<line x1="1386.5" y1="794.45" x2="1751.3" y2="794.45" stroke="#000" stroke-width="2.2" stroke-dasharray="2.2 2.16"/>
<path d="M1374 590.75H1385V809H1745.7" fill="none" stroke="#000" stroke-width="3.0"/>
<text x="1373.3" y="816.2" font-size="20.5" font-weight="bold" text-anchor="end">0</text>
<text x="1373.3" y="743.45" font-size="20.5" font-weight="bold" text-anchor="end">5</text>
<text x="1373.3" y="670.7" font-size="20.5" font-weight="bold" text-anchor="end">10</text>
<text x="1373.3" y="597.95" font-size="20.5" font-weight="bold" text-anchor="end">15</text>
<path d="M1374 809H1385M1374 736.25H1385M1374 663.5H1385M1378.5 794.45H1385M1378.5 779.9H1385M1378.5 765.35H1385M1378.5 750.8H1385M1378.5 721.7H1385M1378.5 707.15H1385M1378.5 692.6H1385M1378.5 678.05H1385M1378.5 648.95H1385M1378.5 634.4H1385M1378.5 619.85H1385M1378.5 605.3H1385M1403.4 809V820.3M1430.45 809V820.3M1457.5 809V820.3M1484.55 809V820.3M1511.6 809V820.3M1538.65 809V820.3M1565.7 809V820.3M1592.75 809V820.3M1619.8 809V820.3M1646.85 809V820.3M1673.9 809V820.3M1700.95 809V820.3M1728 809V820.3" fill="none" stroke="#000" stroke-width="3.0"/>
<text transform="translate(1408.2 835) rotate(-45)" font-size="20.5" font-weight="bold" text-anchor="end">PNS</text>
<text transform="translate(1435.25 835) rotate(-45)" font-size="20.5" font-weight="bold" text-anchor="end">1</text>
<text transform="translate(1462.3 835) rotate(-45)" font-size="20.5" font-weight="bold" text-anchor="end">2</text>
<text transform="translate(1489.35 835) rotate(-45)" font-size="20.5" font-weight="bold" text-anchor="end">3</text>
<text transform="translate(1516.4 835) rotate(-45)" font-size="20.5" font-weight="bold" text-anchor="end">4</text>
<text transform="translate(1543.45 835) rotate(-45)" font-size="20.5" font-weight="bold" text-anchor="end">5</text>
<text transform="translate(1570.5 835) rotate(-45)" font-size="20.5" font-weight="bold" text-anchor="end">6</text>
<text transform="translate(1597.55 835) rotate(-45)" font-size="20.5" font-weight="bold" text-anchor="end">7</text>
<text transform="translate(1624.6 835) rotate(-45)" font-size="20.5" font-weight="bold" text-anchor="end">8</text>
<text transform="translate(1651.65 835) rotate(-45)" font-size="20.5" font-weight="bold" text-anchor="end">9</text>
<text transform="translate(1678.7 835) rotate(-45)" font-size="20.5" font-weight="bold" text-anchor="end">10</text>
<text transform="translate(1705.75 835) rotate(-45)" font-size="20.5" font-weight="bold" text-anchor="end">11</text>
<text transform="translate(1732.8 835) rotate(-45)" font-size="20.5" font-weight="bold" text-anchor="end">12</text>
<path d="M1434.5 880.3H1735.5V856L1434.5 880.3" fill="#fff" stroke="#000" stroke-width="3" stroke-linecap="round" stroke-linejoin="miter"/>
<text x="1593" y="906.3" font-size="23.4" font-weight="bold" text-anchor="middle">Fractions</text>
<line x1="1456.6" y1="573.8" x2="1482" y2="573.8" stroke="#000" stroke-width="2.6"/>
<circle cx="1469.5" cy="573.8" r="4.2"/>
<text x="1494.6" y="580.1" font-size="17.5">HistoneH3.1_YRPGTVALR</text>
<path d="M1430.45 806.09V807.54M1425.75 806.09h9.4M1425.75 807.54h9.4M1457.5 795.47V804.2M1452.8 795.47h9.4M1452.8 804.2h9.4M1484.55 793.87V799.69M1479.85 793.87h9.4M1479.85 799.69h9.4M1511.6 794.89V802.16M1506.9 794.89h9.4M1506.9 802.16h9.4M1538.65 799.69V802.6M1533.95 799.69h9.4M1533.95 802.6h9.4M1565.7 799.98V802.89M1561 799.98h9.4M1561 802.89h9.4M1592.75 786.59V799.4M1588.05 786.59h9.4M1588.05 799.4h9.4M1619.8 788.19V799.83M1615.1 788.19h9.4M1615.1 799.83h9.4M1646.85 776.55V796.92M1642.15 776.55h9.4M1642.15 796.92h9.4M1673.9 756.77V777.14M1669.2 756.77h9.4M1669.2 777.14h9.4M1700.95 725.19V767.97M1696.25 725.19h9.4M1696.25 767.97h9.4M1728 661.17V714.13M1723.3 661.17h9.4M1723.3 714.13h9.4" fill="none" stroke="#1a1a1a" stroke-width="1.4"/>
<polyline points="1403.4,794.45 1430.45,806.82 1457.5,799.83 1484.55,796.78 1511.6,798.52 1538.65,801.14 1565.7,801.43 1592.75,793 1619.8,794.01 1646.85,786.74 1673.9,766.95 1700.95,746.58 1728,687.65" fill="none" stroke="#000" stroke-width="2.6" stroke-linejoin="round"/>
<circle cx="1403.4" cy="794.45" r="4.2"/>
<circle cx="1430.45" cy="806.82" r="4.2"/>
<circle cx="1457.5" cy="799.83" r="4.2"/>
<circle cx="1484.55" cy="796.78" r="4.2"/>
<circle cx="1511.6" cy="798.52" r="4.2"/>
<circle cx="1538.65" cy="801.14" r="4.2"/>
<circle cx="1565.7" cy="801.43" r="4.2"/>
<circle cx="1592.75" cy="793" r="4.2"/>
<circle cx="1619.8" cy="794.01" r="4.2"/>
<circle cx="1646.85" cy="786.74" r="4.2"/>
<circle cx="1673.9" cy="766.95" r="4.2"/>
<circle cx="1700.95" cy="746.58" r="4.2"/>
<circle cx="1728" cy="687.65" r="4.2"/></g>
</svg></body></html>
